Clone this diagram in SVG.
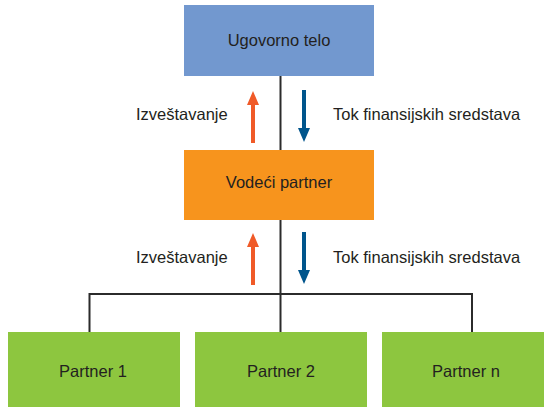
<svg xmlns="http://www.w3.org/2000/svg" xmlns:xlink="http://www.w3.org/1999/xlink" width="544" height="407" viewBox="0 0 544 407">
  <style>
    text { font-family: "Liberation Sans", Arial, sans-serif; font-size: 16.5px; fill: #231F20; }
    .c { text-anchor: middle; }
    .line { stroke: #2B2B2B; stroke-width: 2; fill: none; }
    .up { fill: #F05A28; }
    .down { fill: #00558C; }
  </style>
  <defs>
    <path id="arrow" d="M0,0 L6,14 L2,14 L2,52 L-2,52 L-2,14 L-6,14 Z"/>
  </defs>
  <rect width="544" height="407" fill="#FFFFFF"/>
  <g id="connectors">
    <line class="line" x1="280.5" y1="76" x2="280.5" y2="150"/>
    <line class="line" x1="280.5" y1="220" x2="280.5" y2="332"/>
    <polyline class="line" points="89.5,332 89.5,294 472,294 472,332"/>
    <use xlink:href="#arrow" class="up" transform="translate(253,91)"/>
    <use xlink:href="#arrow" class="down" transform="translate(304,142) rotate(180)"/>
    <use xlink:href="#arrow" class="up" transform="translate(253,233)"/>
    <use xlink:href="#arrow" class="down" transform="translate(304,284) rotate(180)"/>
    <text x="136" y="120">Izveštavanje</text>
    <text x="333" y="120">Tok finansijskih sredstava</text>
    <text x="136" y="263">Izveštavanje</text>
    <text x="333" y="263">Tok finansijskih sredstava</text>
  </g>
  <g id="ugovorno-telo">
    <rect x="184" y="5" width="190" height="71" fill="#7298CF"/>
    <text class="c" x="279" y="46">Ugovorno telo</text>
  </g>
  <g id="vodeci-partner">
    <rect x="184" y="150" width="190" height="70" fill="#F7941D"/>
    <text class="c" x="279" y="188">Vodeći partner</text>
  </g>
  <g id="partner-1">
    <rect x="8" y="332" width="172" height="75" fill="#8DC63F"/>
    <text class="c" x="93" y="377">Partner 1</text>
  </g>
  <g id="partner-2">
    <rect x="195" y="332" width="172" height="75" fill="#8DC63F"/>
    <text class="c" x="281" y="377">Partner 2</text>
  </g>
  <g id="partner-n">
    <rect x="382" y="332" width="162" height="75" fill="#8DC63F"/>
    <text class="c" x="466" y="377">Partner n</text>
  </g>
</svg>
